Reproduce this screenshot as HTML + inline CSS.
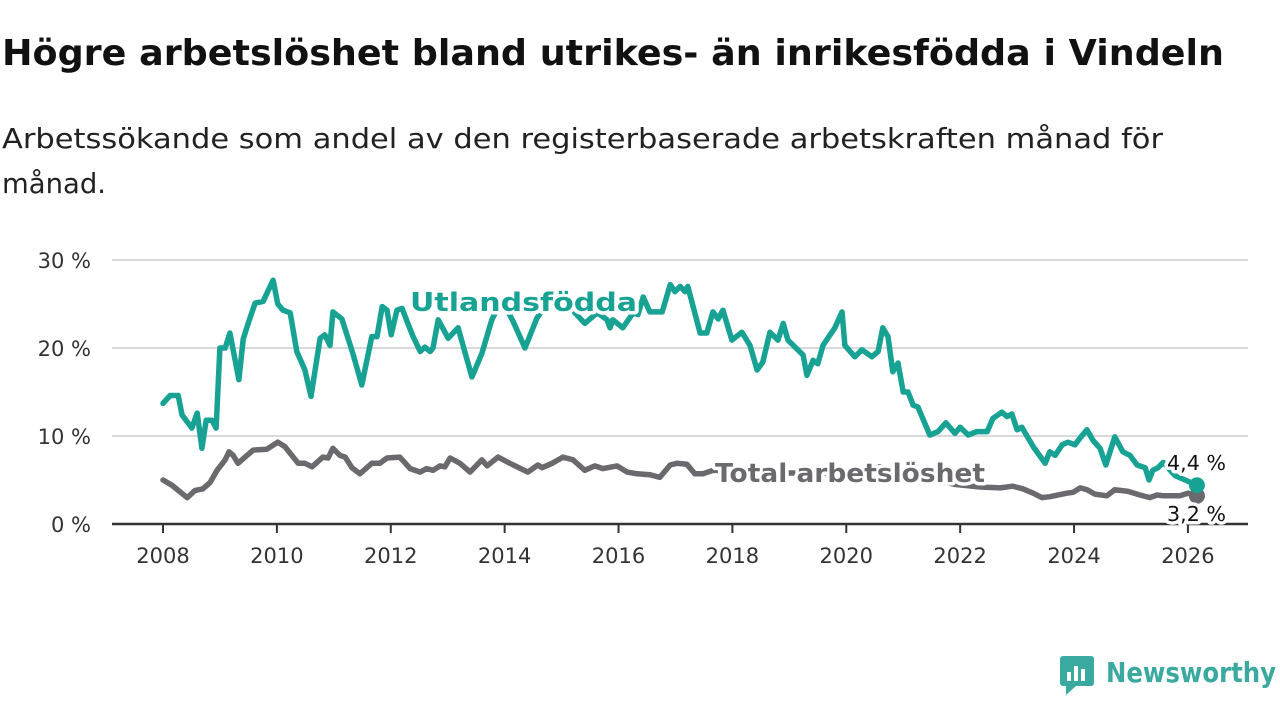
<!DOCTYPE html>
<html><head><meta charset="utf-8"><style>
html,body{margin:0;padding:0;background:#fff;}
svg{display:block;font-family:"DejaVu Sans","Liberation Sans",sans-serif;}
</style></head><body>
<svg id="chart" width="1280" height="720" viewBox="0 0 1280 720" xmlns="http://www.w3.org/2000/svg">
<text x="2" y="65" font-size="36" font-weight="bold" fill="#111" textLength="1222" lengthAdjust="spacingAndGlyphs">Högre arbetslöshet bland utrikes- än inrikesfödda i Vindeln</text>
<text x="2" y="148" font-size="28" fill="#222" textLength="1161" lengthAdjust="spacingAndGlyphs">Arbetssökande som andel av den registerbaserade arbetskraften månad för</text>
<text x="2" y="193" font-size="28" fill="#222" textLength="104" lengthAdjust="spacingAndGlyphs">månad.</text>
<g id="grid"></g>
<g id="yaxis"></g>
<g id="xaxis"></g>
<g id="series"></g>
<g id="labels"></g>
<g>
<rect x="1060" y="656" width="34" height="30" rx="3" fill="#3aa99f"/>
<polygon points="1066,686 1076,686 1066,695" fill="#3aa99f"/>
<rect x="1067" y="672" width="4" height="9" fill="#fff"/>
<rect x="1074" y="666" width="4" height="15" fill="#fff"/>
<rect x="1081" y="669" width="4" height="12" fill="#fff"/>
<text x="1106" y="682" font-size="28" font-weight="bold" fill="#3aa99f" textLength="170" lengthAdjust="spacingAndGlyphs">Newsworthy</text>
</g>
</svg>
<script>
// months since Jan 2008
const utlMonths = [0,1.5,3.2,4,6.1,7.2,8.2,9.1,10.3,11.2,12,13.1,14.1,16,16.9,17.9,19.4,21.1,23.2,24.2,25.3,26.8,28.2,29.9,31.2,33.1,34.1,35.2,35.8,37.7,40,41.9,44,45.1,46.2,47.2,48.1,49.3,50.4,51.6,52.7,54.2,55.2,56.3,56.9,58,59,60.1,62.2,65.1,67.2,69.3,71.4,73.8,76.3,78.8,81.6,84.7,86.8,88.9,91.5,93.6,94.2,94.8,96.9,99.1,100.1,101.2,102.6,105.2,106.9,107.9,109,110,110.6,113.2,114.6,115.9,117,118,119.9,122,123.7,125.2,126.4,127.9,129.6,130.7,131.7,133.2,134.9,135.7,137,138,139.1,140.6,141.6,143.1,143.7,145.8,147.3,149.4,150.7,151.7,152.8,153.8,154.9,156,157,158.1,159.1,161.6,163.3,165,166.9,168,169.7,171.5,173.7,174.9,176.8,177.9,178.9,180,181,183.4,185.9,186.9,188,189.5,190.7,192.2,193.3,194.7,196,197.5,198.7,200.6,202.3,203.8,205.3,207,207.8,208.6,209.7,210.8,213.3,215.4,217.9];
const utlValues = [13.7,14.6,14.6,12.4,10.9,12.6,8.6,11.8,11.8,10.9,20,20,21.7,16.4,21,22.7,25.1,25.3,27.7,25,24.3,24,19.6,17.5,14.5,21.1,21.5,20.3,24.1,23.3,19.4,15.8,21.3,21.3,24.7,24.3,21.5,24.3,24.5,22.8,21.3,19.6,20.1,19.6,20,23.2,22.2,21.1,22.3,16.7,19.4,23.2,25.5,23,20,23.4,25.5,26,24,22.8,24,23.2,22.3,23.2,22.3,24,23.8,25.8,24.1,24.1,27.2,26.4,27,26.4,27,21.7,21.7,24.1,23.3,24.3,20.9,21.8,20.3,17.5,18.4,21.8,20.9,22.8,20.9,20.1,19.2,16.9,18.6,18.2,20.3,21.5,22.3,24.1,20.3,19,19.8,19,19.6,22.3,21.3,17.3,18.3,15,15,13.5,13.3,10.1,10.5,11.5,10.3,11,10.1,10.5,10.5,12,12.7,12.2,12.5,10.7,11,8.8,6.9,8.2,7.8,9,9.3,9,9.8,10.7,9.5,8.6,6.7,9.9,8.2,7.8,6.7,6.4,5,6.1,6.4,7,5.5,5,4.4];
const totMonths = [0,1.9,5.1,6.7,8.4,9.9,11.4,13.1,13.9,14.8,15.8,17.3,19,21.9,24.2,25.7,28.5,29.9,31.4,33.7,34.8,35.8,37.3,38.4,39.8,41.5,44,45.7,47.2,49.9,52.1,54.2,55.6,56.9,58.4,59.4,60.5,62.6,64.7,67.2,68.3,70.6,73.1,76.9,79,79.9,82,84.3,86.4,88.9,91,92.7,95.7,97.8,99.9,102.6,104.7,106.9,108.3,110.4,112.1,113.8,115.9,121.6,132.1,143.9,151.1,159.5,166.9,172.2,176.4,179.1,181.2,183.4,185.2,186.9,190.5,191.8,193.3,194.7,196.4,198.9,200.6,203.4,205.9,208,209.5,210.8,214.3,216,217.9];
const totValues = [5,4.4,3,3.8,4,4.7,6.1,7.3,8.2,7.8,6.9,7.6,8.4,8.5,9.3,8.8,6.9,6.9,6.5,7.6,7.5,8.6,7.8,7.6,6.4,5.7,6.9,6.9,7.5,7.6,6.3,5.9,6.3,6.1,6.6,6.5,7.5,6.9,5.9,7.3,6.6,7.6,6.9,5.9,6.7,6.4,6.9,7.6,7.3,6.1,6.6,6.3,6.6,5.9,5.7,5.6,5.3,6.7,6.9,6.8,5.7,5.7,6.1,6,5.8,5.8,6.5,5.5,4.5,4.2,4.1,4.3,4,3.5,3,3.1,3.5,3.6,4.1,3.9,3.4,3.2,3.9,3.7,3.3,3,3.3,3.2,3.2,3.5,3.2];
const yTicks = [0,10,20,30];
const yTickLabels = ["0 %","10 %","20 %","30 %"];
const xYears = [2008,2010,2012,2014,2016,2018,2020,2022,2024,2026];
const endLabels = ["4,4 %","3,2 %"];

const NS="http://www.w3.org/2000/svg";
const X0=163, PXM=4.745, Y0=524, PXP=8.8;
const xm = m => X0 + m*PXM;
const xy = yr => X0 + (yr-2008)*12*PXM;
const yv = v => Y0 - v*PXP;
function mk(tag, parent, attrs){const e=document.createElementNS(NS,tag);for(const k in attrs)e.setAttribute(k,attrs[k]);parent.appendChild(e);return e;}

const grid=document.getElementById('grid'), ya=document.getElementById('yaxis'), xa=document.getElementById('xaxis');
yTicks.forEach((t,i)=>{
  if(t>0){const l=mk('line',grid,{x1:112,x2:1248,y1:yv(t),y2:yv(t),stroke:'#d9d9d9','stroke-width':2});
  
  }
  const tx=mk('text',ya,{x:91,y:yv(t)+8,'font-size':21,fill:'#333','text-anchor':'end'});
  
  
  tx.textContent=yTickLabels[i];
});
const base=mk('line',xa,{x1:112,x2:1248,y1:Y0,y2:Y0,stroke:'#333','stroke-width':2.5});


xYears.forEach(yr=>{
  const tk=mk('line',xa,{x1:xy(yr),x2:xy(yr),y1:Y0,y2:Y0+9,stroke:'#333','stroke-width':2});
  
  
  const tx=mk('text',xa,{x:xy(yr),y:563,'font-size':21,fill:'#333','text-anchor':'middle'});
  
  
  tx.textContent=yr;
});
const ser=document.getElementById('series');
function line(ms,vs,color,name){
  const d=ms.map((m,i)=>(i?'L':'M')+xm(m).toFixed(1)+','+yv(vs[i]).toFixed(1)).join('');
  const p=mk('path',ser,{d:d,fill:'none',stroke:color,'stroke-width':5.5,'stroke-linejoin':'round','stroke-linecap':'round'});
  
  
  const c=mk('circle',ser,{cx:xm(ms[ms.length-1]),cy:yv(vs[vs.length-1]),r:8,fill:color});
  
  
}
line(totMonths,totValues,'#6b696e','total-line');
line(utlMonths,utlValues,'#17a293','utlandsfodda-line');
const lab=document.getElementById('labels');
function halo(txt,x,y,size,weight,color,len,name,anchor){
  const t=mk('text',lab,{x:x,y:y,'font-size':size,'font-weight':weight,fill:color,stroke:'#fff','stroke-width':7,'paint-order':'stroke','stroke-linejoin':'round','text-anchor':anchor||'start'});
  if(len){t.setAttribute('textLength',len);t.setAttribute('lengthAdjust','spacingAndGlyphs');}
  
  
  t.textContent=txt;
}
halo('Utlandsfödda',410,311,26,'bold','#17a293',227,'utlandsfodda-label');
halo('Total arbetslöshet',715,482,26,'bold','#6b696e',270,'total-label');
halo(endLabels[0],1167,470,20,'normal','#111',59,'utlandsfodda-end-label');
halo(endLabels[1],1167,521,20,'normal','#111',59,'total-end-label');
</script>
</body></html>
